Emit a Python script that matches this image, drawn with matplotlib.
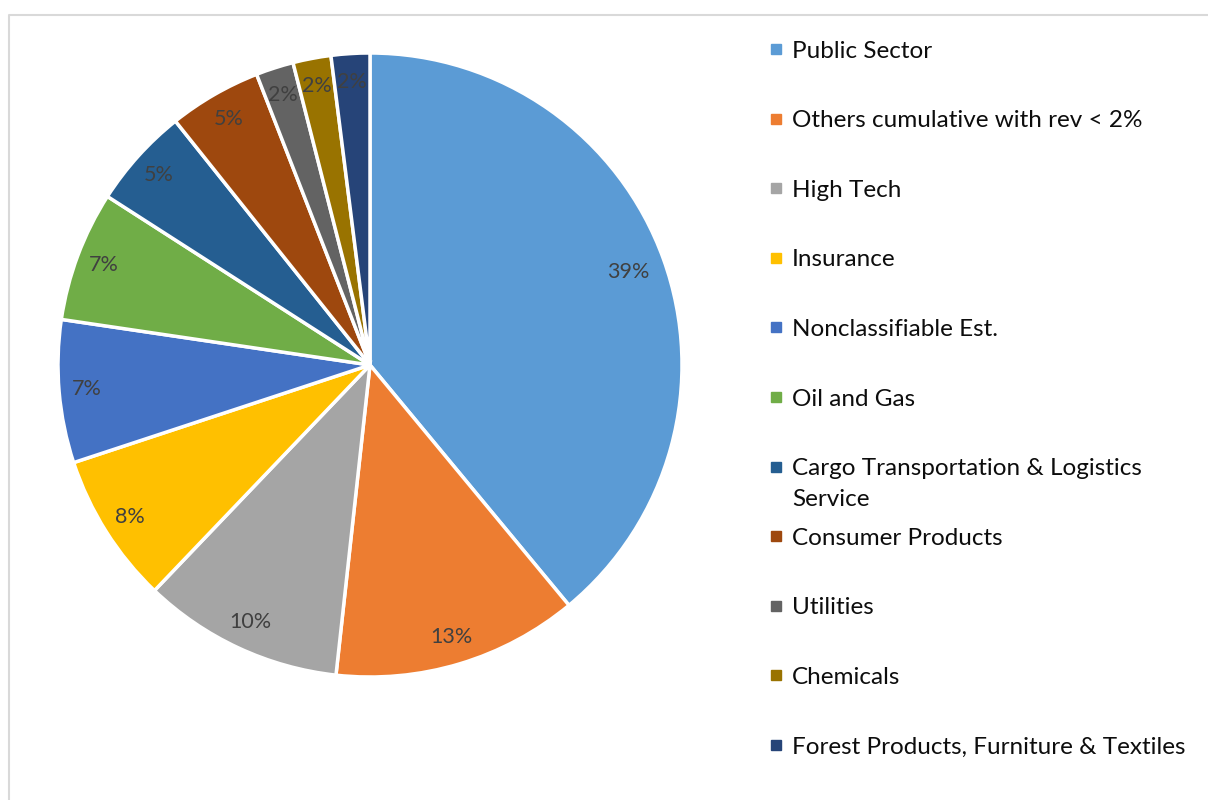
import matplotlib.pyplot as plt
from matplotlib.lines import Line2D
from matplotlib.patches import Rectangle

# データ
sectors = ["Public Sector", "Others cumulative with rev < 2%", "High Tech", "Insurance",
           "Nonclassifiable Est.", "Oil and Gas", "Cargo Transportation & Logistics\nService",
           "Consumer Products", "Utilities", "Chemicals", "Forest Products, Furniture & Textiles"]
shares = [39.0, 12.75, 10.4, 7.8, 7.4, 6.75, 5.2, 4.8, 1.95, 1.97, 2.0]
colors = ["#5B9BD5", "#ED7D31", "#A5A5A5", "#FFC000", "#4472C4", "#70AD47",
          "#255E91", "#9E480E", "#636363", "#997300", "#264478"]

plt.rcParams['font.family'] = ['Lato', 'DejaVu Sans']

W, H = 1208, 800
fig = plt.figure(figsize=(W / 100, H / 100), dpi=100)

# 円グラフ (中心 370,365 半径 312 px)
cx, cy, r = 370, 365, 312
ax = fig.add_axes([(cx - r) / W, 1 - (cy + r) / H, 2 * r / W, 2 * r / H])
wedges, texts, autotexts = ax.pie(
    shares, colors=colors, startangle=90, counterclock=False,
    autopct='%.0f%%', pctdistance=0.91, radius=1.0,
    wedgeprops=dict(edgecolor='white', linewidth=2.5),
    textprops=dict(color='#404040', fontsize=15.5))
# 最大のラベルは少し内側
px, py = autotexts[0].get_position()
autotexts[0].set_position((px * 0.88 / 0.91, py * 0.88 / 0.91))
ax.set_xlim(-1, 1)
ax.set_ylim(-1, 1)
ax.set_aspect('equal')

# 枠線
fig.add_artist(Line2D([8.5 / W, 8.5 / W, 1], [0, 1 - 14.5 / H, 1 - 14.5 / H],
                      transform=fig.transFigure, color='#d9d9d9', lw=1.5))

# 凡例
y0 = 49
step = 69.6
for i, (lab, c) in enumerate(zip(sectors, colors)):
    y = y0 + i * step
    fig.add_artist(Rectangle((771 / W, 1 - (y + 5) / H), 10 / W, 10 / H,
                             transform=fig.transFigure, color=c))
    for k, line in enumerate(lab.split('\n')):
        fig.text(792 / W, 1 - (y + 8.5 + k * 31) / H, line, fontsize=17.5, color='#0d0d0d',
                 va='baseline', ha='left')

fig.savefig('out.png', dpi=100)
